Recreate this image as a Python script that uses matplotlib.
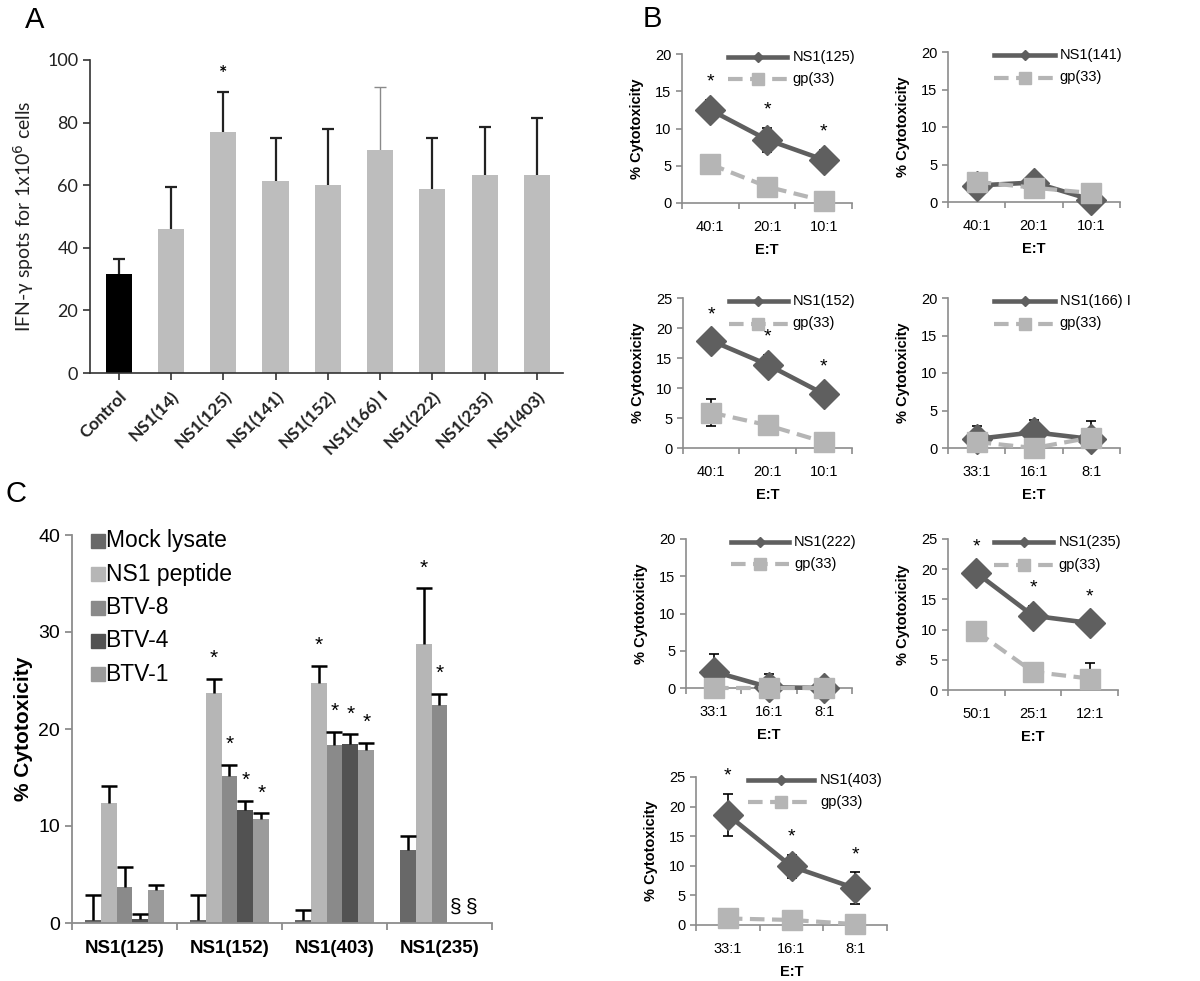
import numpy as np
import matplotlib.pyplot as plt

plt.rcParams['font.family'] = ['Liberation Sans', 'DejaVu Sans']

W, H = 1200, 981

# ---------------- data ----------------
# Panel A: IFN-gamma ELISPOT
a_labels = ['Control', 'NS1(14)', 'NS1(125)', 'NS1(141)', 'NS1(152)',
            'NS1(166) I', 'NS1(222)', 'NS1(235)', 'NS1(403)']
a_spots = [31.5, 46.0, 77.0, 61.3, 60.0, 71.4, 58.8, 63.2, 63.1]
a_err = [5.0, 13.3, 12.8, 13.7, 17.8, 20.0, 16.2, 15.5, 18.3]
a_star = [False, False, True, False, False, False, False, False, False]

# Panel B: cytotoxicity vs E:T ratio
b_names = ['NS1(125)', 'NS1(141)', 'NS1(152)', 'NS1(166) I',
           'NS1(222)', 'NS1(235)', 'NS1(403)']
b_ratios = [['40:1', '20:1', '10:1'], ['40:1', '20:1', '10:1'],
            ['40:1', '20:1', '10:1'], ['33:1', '16:1', '8:1'],
            ['33:1', '16:1', '8:1'], ['50:1', '25:1', '12:1'],
            ['33:1', '16:1', '8:1']]
b_ns1 = [[12.5, 8.5, 5.8], [2.2, 2.6, 0.3], [17.9, 13.9, 9.0],
         [1.2, 2.1, 1.2], [2.2, 0.1, 0.0], [19.4, 12.3, 11.1],
         [18.6, 9.9, 6.2]]
b_ns1_err = [[1.3, 1.6, 1.3], [0.3, 0.3, 0.3], [1.3, 1.6, 1.5],
             [1.7, 1.7, 2.4], [2.3, 1.8, 0.0], [1.2, 1.6, 1.3],
             [3.6, 1.9, 2.7]]
b_gp = [[5.2, 2.2, 0.3], [2.7, 1.9, 1.2], [5.9, 3.8, 1.0],
        [0.8, 0.0, 1.4], [0.0, 0.0, 0.0], [9.7, 3.0, 1.9],
        [1.1, 0.85, 0.15]]
b_gp_err = [[0.4, 0.4, 0.4], [0.3, 0.3, 0.3], [2.2, 0.5, 0.5],
            [0.0, 0.0, 0.0], [0.0, 0.0, 0.0], [0.5, 0.5, 2.6],
            [0.0, 0.0, 0.0]]
b_ymax = [20, 20, 25, 20, 20, 25, 25]
b_star = [True, False, True, False, False, True, True]

# Panel C: cytotoxicity of NS1-specific cells
c_groups = ['NS1(125)', 'NS1(152)', 'NS1(403)', 'NS1(235)']
c_series = ['Mock lysate', 'NS1 peptide', 'BTV-8', 'BTV-4', 'BTV-1']
c_mock = [0.3, 0.3, 0.3, 7.5]
c_mock_err = [2.6, 2.6, 1.0, 1.5]
c_peptide = [12.4, 23.7, 24.7, 28.8]
c_peptide_err = [1.7, 1.5, 1.8, 5.7]
c_btv8 = [3.7, 15.2, 18.3, 22.5]
c_btv8_err = [2.1, 1.1, 1.4, 1.1]
c_btv4 = [0.4, 11.6, 18.45, np.nan]
c_btv4_err = [0.5, 1.0, 1.0, np.nan]
c_btv1 = [3.4, 10.75, 17.8, np.nan]
c_btv1_err = [0.55, 0.55, 0.8, np.nan]
c_star_peptide = [False, True, True, True]
c_star_btv8 = [False, True, True, True]
c_star_btv4 = [False, True, True, False]
c_star_btv1 = [False, True, True, False]
c_colors = ['#686868', '#b6b6b6', '#8a8a8a', '#525252', '#9b9b9b']


def pos(l, r, t, b):
    return [l / W, 1 - b / H, (r - l) / W, (b - t) / H]


def upper_err(ax, x, y, e, color='black', lw=1.5, cap=9, z=1):
    # one-sided error bar: stem from bar top plus a single cap
    ax.vlines(x, y, np.asarray(y) + np.asarray(e), color=color, lw=lw, zorder=z)
    ax.plot(x, np.asarray(y) + np.asarray(e), ls='none', marker='_', ms=cap,
            mew=lw, color=color, zorder=z)


fig = plt.figure(figsize=(12, 9.81), dpi=100)

# ---------------- Panel A ----------------
fa = ['Lato', 'DejaVu Sans']
ax = fig.add_axes(pos(90, 563, 60, 373))
xa = np.arange(len(a_labels))
colors_a = ['black'] + ['#bdbdbd'] * (len(a_labels) - 1)
ax.bar(xa, a_spots, width=0.5, color=colors_a, zorder=2)
for i in range(len(a_labels)):
    if i == 5:
        upper_err(ax, xa[i], a_spots[i], a_err[i], color='#8a8a8a', lw=1.0)
    else:
        upper_err(ax, xa[i], a_spots[i], a_err[i], color='#222222', lw=1.6)
    if a_star[i]:
        ax.text(xa[i], a_spots[i] + a_err[i] + 6, '*', ha='center', va='center',
                fontsize=14, fontweight='bold', family=fa)
ax.set_xlim(-0.55, 8.5)
ax.set_ylim(0, 100)
ax.set_yticks(range(0, 101, 20))
ax.set_xticks(xa)
ax.set_xticklabels(a_labels, rotation=45, ha='right', va='top',
                   rotation_mode='anchor', fontweight='bold', family=fa,
                   fontsize=12.5, color='#222222')
for lab in ax.get_yticklabels():
    lab.set_family(fa)
    lab.set_fontsize(13)
    lab.set_color('#222222')
for s in ['top', 'right']:
    ax.spines[s].set_visible(False)
for s in ['left', 'bottom']:
    ax.spines[s].set_color('#333333')
    ax.spines[s].set_linewidth(1.2)
ax.tick_params(direction='out', length=5, width=1.2, color='#333333')
ax.tick_params(axis='x', pad=6)
ax.set_ylabel('IFN-\u03b3 spots for 1x10$^{6}$ cells', fontsize=14,
              family=fa, color='#222222', labelpad=8)
fig.text(35 / W, 1 - 20 / H, 'A', fontsize=21, ha='center', va='center')

# ---------------- Panel B ----------------
b_pos = [(682, 852, 54, 203), (948, 1120, 52, 202),
         (683, 852, 298, 448), (948, 1120, 298, 448),
         (686, 852, 539, 688), (948, 1118, 539, 690),
         (696, 887, 777, 925)]
dark = '#5f5f5f'
light = '#b5b5b5'
for k in range(len(b_names)):
    ax = fig.add_axes(pos(*b_pos[k]))
    x = np.arange(3) + 0.5
    ax.errorbar(x, b_ns1[k], yerr=b_ns1_err[k], fmt='none', ecolor='black',
                elinewidth=1.2, capsize=3.5, capthick=1.2, zorder=2)
    ax.errorbar(x, b_gp[k], yerr=b_gp_err[k], fmt='none', ecolor='black',
                elinewidth=1.2, capsize=3.5, capthick=1.2, zorder=2)
    ax.plot(x, b_ns1[k], color=dark, lw=3.3, zorder=3, clip_on=False)
    ax.plot(x, b_ns1[k], 'D', ms=15, color=dark, zorder=4, clip_on=False)
    ax.plot(x, b_gp[k], color=light, lw=3.0, ls=(0, (3.5, 1.8)), zorder=5,
            clip_on=False)
    ax.plot(x, b_gp[k], 's', ms=15, color=light, zorder=6, clip_on=False)
    if b_star[k]:
        for i in range(3):
            ax.text(x[i], b_ns1[k][i] + b_ns1_err[k][i] + 0.12 * b_ymax[k], '*',
                    ha='center', va='center', fontsize=14)
    ax.set_xlim(0, 3)
    ax.set_ylim(0, b_ymax[k])
    ax.set_yticks(range(0, b_ymax[k] + 1, 5))
    ax.set_xticks([0, 1, 2, 3])
    ax.set_xticklabels([])
    ax.set_xticks(x, minor=True)
    ax.set_xticklabels(b_ratios[k], minor=True)
    for s in ['top', 'right']:
        ax.spines[s].set_visible(False)
    for s in ['left', 'bottom']:
        ax.spines[s].set_color('#8c8c8c')
        ax.spines[s].set_linewidth(1.2)
    ax.tick_params(direction='out', length=4, width=1.2, color='#8c8c8c',
                   labelsize=10.5)
    ax.tick_params(axis='x', which='minor', length=0, pad=12, labelsize=10.5)
    ax.set_ylabel('% Cytotoxicity', fontsize=10.5, fontweight='bold', labelpad=8)
    ax.set_xlabel('E:T', fontsize=10.5, fontweight='bold', labelpad=7)
    # legend
    ax.plot([0.27, 0.62], [0.98, 0.98], color=dark, lw=3.3,
            transform=ax.transAxes, clip_on=False)
    ax.plot([0.445], [0.98], 'D', ms=5, color=dark,
            transform=ax.transAxes, clip_on=False)
    ax.plot([0.27, 0.62], [0.83, 0.83], color=light, lw=3.0,
            ls=(0, (3.5, 1.8)), transform=ax.transAxes, clip_on=False)
    ax.plot([0.445], [0.83], 's', ms=8, color=light,
            transform=ax.transAxes, clip_on=False)
    ax.text(0.65, 0.98, b_names[k], transform=ax.transAxes, fontsize=10.5,
            va='center', ha='left')
    ax.text(0.65, 0.83, 'gp(33)', transform=ax.transAxes, fontsize=10.5,
            va='center', ha='left')
fig.text(652 / W, 1 - 19 / H, 'B', fontsize=21, ha='center', va='center')

# ---------------- Panel C ----------------
ax = fig.add_axes(pos(72, 492, 535, 923))
xc = np.arange(len(c_groups)) + 0.5
bw = 0.152
c_vals = [c_mock, c_peptide, c_btv8, c_btv4, c_btv1]
c_errs = [c_mock_err, c_peptide_err, c_btv8_err, c_btv4_err, c_btv1_err]
c_stars = [[False] * 4, c_star_peptide, c_star_btv8, c_star_btv4, c_star_btv1]
for j in range(len(c_series)):
    xs = xc + (j - 2) * bw
    vals = np.array(c_vals[j], dtype=float)
    errs = np.array(c_errs[j], dtype=float)
    ok = ~np.isnan(vals)
    ax.bar(xs[ok], vals[ok], width=bw, color=c_colors[j], zorder=2)
    upper_err(ax, xs[ok], vals[ok], errs[ok], color='black', lw=1.8,
              cap=11, z=3)
    for i in range(len(c_groups)):
        if ok[i] and c_stars[j][i]:
            ax.text(xs[i], vals[i] + errs[i] + 2.1, '*', ha='center',
                    va='center', fontsize=15)
        if not ok[i]:
            ax.text(xs[i], 1.65, '\u00a7', ha='center', va='center',
                    fontsize=15)
ax.set_xlim(0, 4)
ax.set_ylim(0, 40)
ax.set_yticks(range(0, 41, 10))
ax.set_xticks(range(5))
ax.set_xticklabels([])
ax.set_xticks(xc, minor=True)
ax.set_xticklabels(c_groups, minor=True, fontweight='bold', fontsize=13.5)
for s in ['top', 'right']:
    ax.spines[s].set_visible(False)
for s in ['left', 'bottom']:
    ax.spines[s].set_color('#8c8c8c')
    ax.spines[s].set_linewidth(1.3)
ax.tick_params(direction='out', length=5, width=1.3, color='#8c8c8c',
               labelsize=14)
ax.tick_params(axis='x', which='minor', length=0, pad=12)
ax.set_ylabel('% Cytotoxicity', fontsize=15, fontweight='bold', labelpad=4)
for j in range(len(c_series)):
    yy = 0.985 - j * 0.086
    ax.plot([0.062], [yy], 's', ms=10.5, color=c_colors[j],
            transform=ax.transAxes, clip_on=False)
    ax.text(0.08, yy, c_series[j], transform=ax.transAxes, fontsize=16.5,
            va='center', ha='left')
fig.text(16 / W, 1 - 494 / H, 'C', fontsize=21, ha='center', va='center')

fig.savefig('out.png', dpi=100)
